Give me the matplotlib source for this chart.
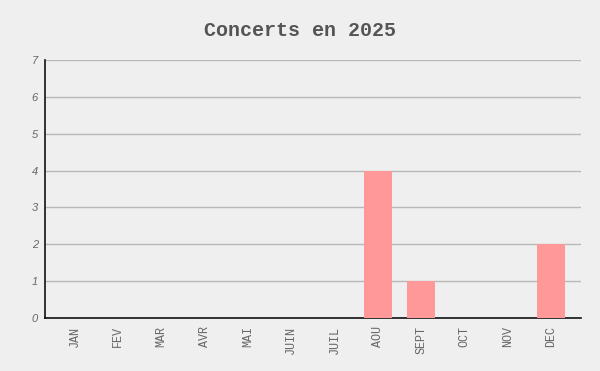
import matplotlib
matplotlib.use("Agg")
import matplotlib.pyplot as plt

# data
months = ['JAN', 'FEV', 'MAR', 'AVR', 'MAI', 'JUIN', 'JUIL', 'AOU', 'SEPT', 'OCT', 'NOV', 'DEC']
concerts = [0, 0, 0, 0, 0, 0, 0, 4, 1, 0, 0, 2]
y_ticks = [0, 1, 2, 3, 4, 5, 6, 7]

bg = '#efefef'
fig = plt.figure(figsize=(6, 3.71), dpi=100, facecolor=bg)
ax = fig.add_axes([0.075, 0.1429, 0.893, 0.6954], facecolor=bg)

x = range(len(months))
ax.bar(x, concerts, width=0.65, color='#ff9999', zorder=3)

ax.set_xlim(-0.69, len(months) - 1 + 0.69)
ax.set_ylim(0, 7)
ax.set_yticks(y_ticks)
ax.set_yticklabels([str(v) for v in y_ticks], fontsize=8, fontstyle='italic',
                   color='#666666', family='Liberation Sans')
ax.set_xticks(list(x))
ax.set_xticklabels(months, rotation=90, fontsize=8.5, color='#666666',
                   family='Liberation Mono', va='top')
ax.tick_params(length=0, pad=6)
ax.tick_params(axis='y', pad=5)

ax.grid(axis='y', color='#b8b8b8', linewidth=1, zorder=0)
for s in ['top', 'right']:
    ax.spines[s].set_visible(False)
for s in ['left', 'bottom']:
    ax.spines[s].set_color('#111111')
    ax.spines[s].set_linewidth(1.2)

fig.text(0.5, 0.918, 'Concerts en 2025', ha='center', va='center', fontsize=14.4,
         fontweight='bold', color='#555555', family='Liberation Mono')

fig.savefig('out.png', dpi=100, facecolor=bg)
